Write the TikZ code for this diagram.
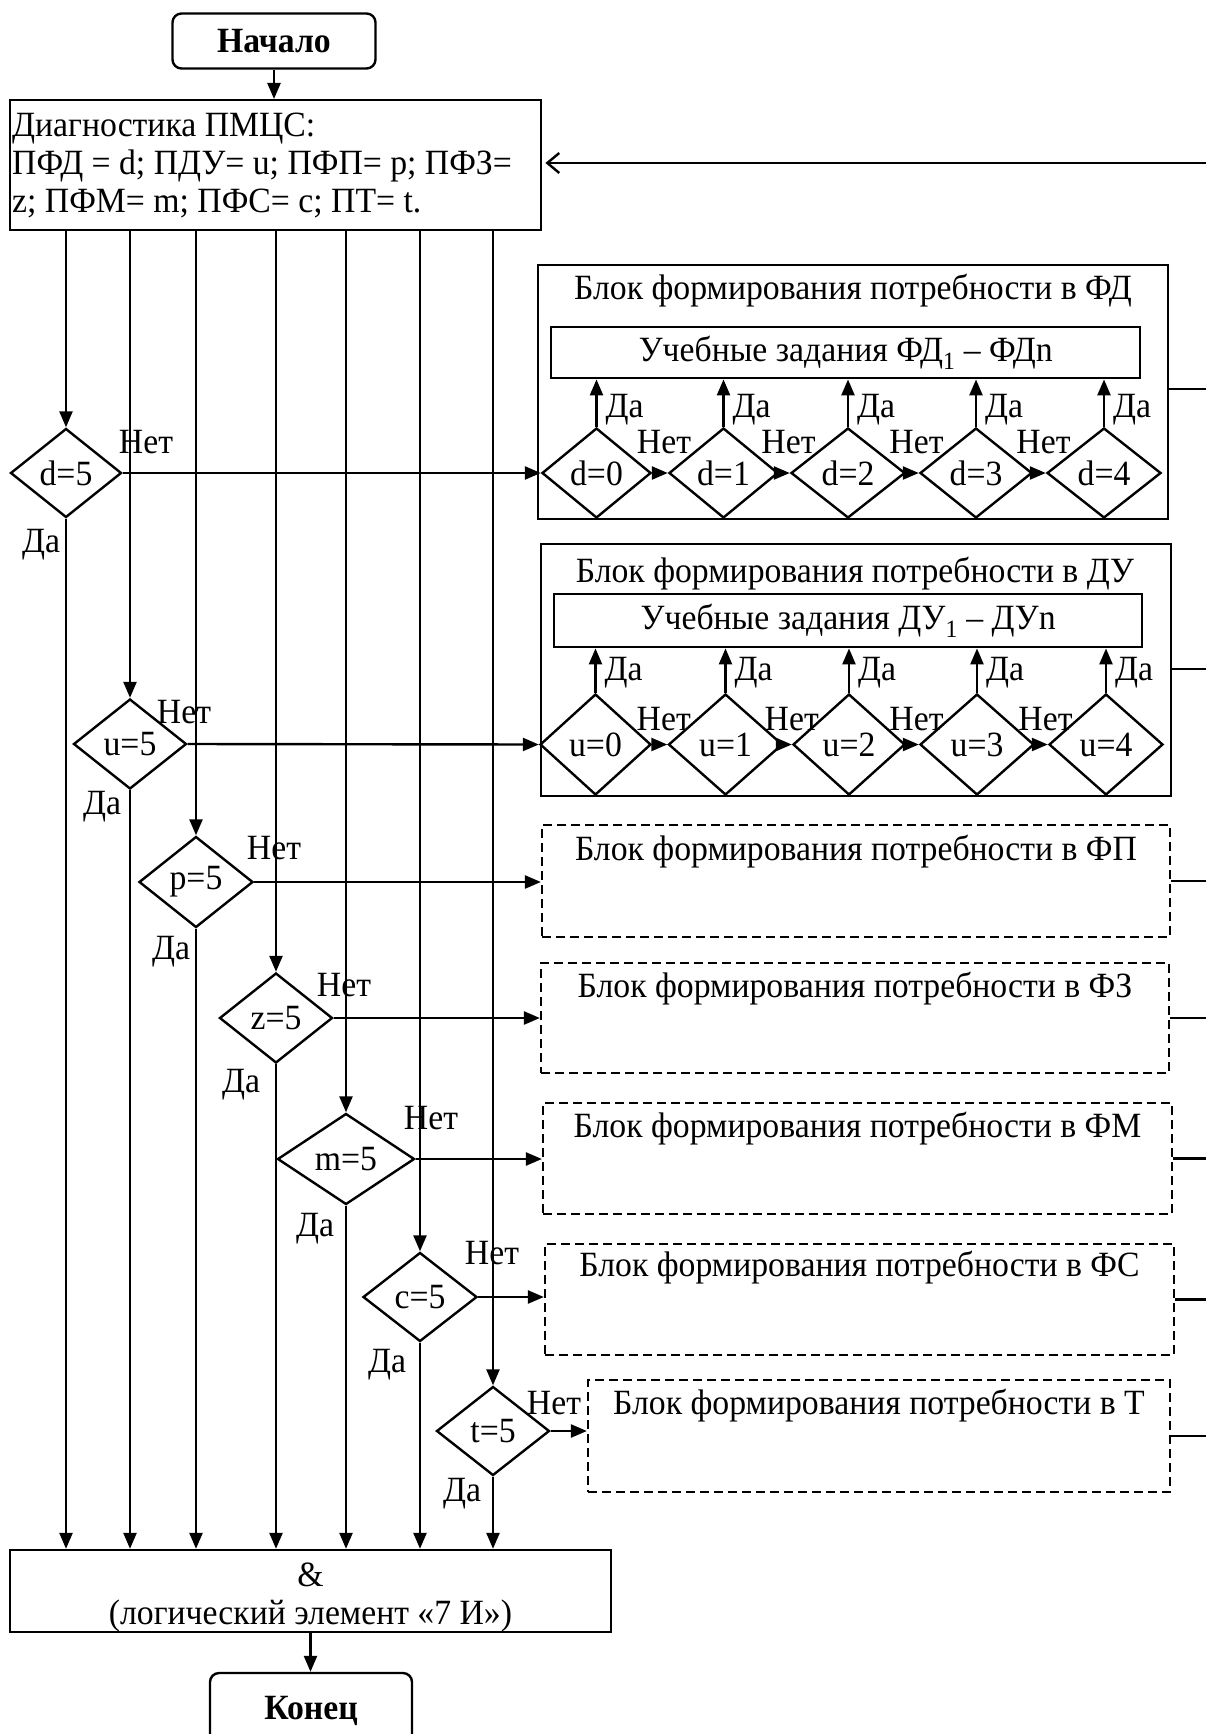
\documentclass[tikz,border=0pt]{standalone}
\usepackage{fontspec}
\setmainfont{Liberation Serif}[FakeStretch=0.95]
\usetikzlibrary{shapes.geometric,arrows.meta,calc}
\begin{document}
\begin{tikzpicture}[x=1pt,y=-1pt,
  every node/.style={font=\fontsize{35.5}{38}\selectfont, inner sep=0pt},
  ln/.style={line width=2.4pt},
  arr/.style={ln,-{Triangle[length=16pt,width=13pt]}},
  dia/.style={diamond, draw, line width=2.4pt, inner sep=0pt},
  boxs/.style={rectangle, draw, line width=2.4pt},
  dbox/.style={rectangle, draw, line width=2.2pt, dash pattern=on 9pt off 5pt},
  term/.style={rectangle, draw, line width=2.4pt, rounded corners=9pt}
]
\path[fill=white] (0,0) rectangle (1206,1734);
\useasboundingbox (0,0) rectangle (1206,1734);

% start and diagnostics
\node[term, minimum width=203pt, minimum height=55pt] (start) at (274,41) {\textbf{Начало}};
\node[boxs, minimum width=531pt, minimum height=130pt, anchor=north west] (diag) at (9,99) {};
\node[anchor=west, align=left] (diagtxt) at ([xshift=3pt]diag.west) {Диагностика ПМЦС:\\ПФД = d; ПДУ= u; ПФП= p; ПФЗ=\\z; ПФМ= m; ПФС= c; ПТ= t.};
\draw[arr] (start.south) -- (start.south |- diag.north);

% main decisions
\node[dia, minimum width=111pt, minimum height=89pt] (d5) at (66,473) {d=5};
\node[dia, minimum width=113pt, minimum height=90pt] (u5) at (130,744) {u=5};
\node[dia, minimum width=114pt, minimum height=91pt] (p5) at (196,882) {p=5};
\node[dia, minimum width=113pt, minimum height=90pt] (z5) at (276,1018) {z=5};
\node[dia, minimum width=137pt, minimum height=91pt] (m5) at (346,1159) {m=5};
\node[dia, minimum width=114pt, minimum height=89pt] (c5) at (420,1297) {c=5};
\node[dia, minimum width=113pt, minimum height=89pt] (t5) at (493,1431) {t=5};

% AND and end
\node[boxs, minimum width=601pt, minimum height=82pt] (and) at (310.5,1591) {};
\node[align=center] (andtxt) at ([yshift=-6pt]and.center) {\&\\(логический элемент «7 И»)};
\node[term, minimum width=202pt, minimum height=76pt] (end) at (311,1711) {\textbf{Конец}};
\draw[arr] (and.south) -- (and.south |- end.north);

\foreach \n in {d5,u5,p5,z5,m5,c5,t5}{
  \draw[arr] (\n.north |- diag.south) -- (\n.north);
  \draw[arr] (\n.south) -- (\n.south |- and.north);
}

% labels of main decisions
\node (l1n) at (146,442) {Нет};  \node (l1d) at (41,545) {Да};
\node (l2n) at (184,712) {Нет};  \node (l2d) at (102,807) {Да};
\node (l3n) at (274,848) {Нет};  \node (l3d) at (171,952) {Да};
\node (l4n) at (344,985) {Нет};  \node (l4d) at (241,1085) {Да};
\node (l5n) at (431,1118) {Нет}; \node (l5d) at (315,1229) {Да};
\node (l6n) at (492,1253) {Нет}; \node (l6d) at (387,1365) {Да};
\node (l7n) at (554,1403) {Нет}; \node (l7d) at (462,1494) {Да};

% FD block
\node[boxs, minimum width=630pt, minimum height=254pt, anchor=north west] (fd) at (537,264) {};
\node (fdT) at (853,291) {Блок формирования потребности в ФД};
\node[boxs, minimum width=589pt, minimum height=51pt, anchor=north west] (fdI) at (550,326) {};
\node (fdIt) at (fdI.center) {Учебные задания ФД\textsubscript{1} – ФДn};
\node[dia, minimum width=109pt, minimum height=90pt] (fd0) at (596.5,473) {d=0};
\node[dia, minimum width=109pt, minimum height=90pt] (fd1) at (723.5,473) {d=1};
\node[dia, minimum width=114pt, minimum height=90pt] (fd2) at (848,473) {d=2};
\node[dia, minimum width=112pt, minimum height=90pt] (fd3) at (976,473) {d=3};
\node[dia, minimum width=114pt, minimum height=90pt] (fd4) at (1104,473) {d=4};
\draw[arr] (d5.east) -- (fd0.west);
\foreach \a/\b in {fd0/fd1,fd1/fd2,fd2/fd3,fd3/fd4}{
  \draw[arr] (\a.east) -- (\b.west);
  \node at ($(\a.east)!0.5!(\b.west)+(4,-31)$) {Нет};
}
\foreach \a in {fd0,fd1,fd2,fd3,fd4}{
  \draw[arr] (\a.north) -- (\a.north |- fdI.south);
  \node at ($(\a.north)+(28,-17)$) {Да};
}

% DU block
\node[boxs, minimum width=630pt, minimum height=252pt, anchor=north west] (du) at (540,543) {};
\node (duT) at (855,574) {Блок формирования потребности в ДУ};
\node[boxs, minimum width=588pt, minimum height=53pt, anchor=north west] (duI) at (553,593) {};
\node (duIt) at (duI.center) {Учебные задания ДУ\textsubscript{1} – ДУn};
\node[dia, minimum width=111pt, minimum height=101pt] (du0) at (595.5,744.5) {u=0};
\node[dia, minimum width=114pt, minimum height=101pt] (du1) at (725.5,744.5) {u=1};
\node[dia, minimum width=112pt, minimum height=101pt] (du2) at (849,744.5) {u=2};
\node[dia, minimum width=114pt, minimum height=101pt] (du3) at (977,744.5) {u=3};
\node[dia, minimum width=114pt, minimum height=101pt] (du4) at (1106,744.5) {u=4};
\draw[arr] (u5.east) -- (du0.west);
\foreach \a/\b in {du0/du1,du1/du2,du2/du3,du3/du4}{
  \draw[arr] (\a.east) -- (\b.west);
  \node at ($(\a.east)!0.5!(\b.west)+(4,-25)$) {Нет};
}
\foreach \a in {du0,du1,du2,du3,du4}{
  \draw[arr] (\a.north) -- (\a.north |- duI.south);
  \node at ($(\a.north)+(28,-20)$) {Да};
}

% dashed blocks
\node[dbox, minimum width=628pt, minimum height=112pt] (fp) at (856,881) {};
\node[dbox, minimum width=628pt, minimum height=110pt] (fz) at (855,1018) {};
\node[dbox, minimum width=629pt, minimum height=111pt] (fm) at (857.5,1158.5) {};
\node[dbox, minimum width=629pt, minimum height=111pt] (fs) at (859.5,1299.5) {};
\node[dbox, minimum width=582pt, minimum height=112pt] (ft) at (879,1436) {};
\node (fpT) at ([yshift=-28pt]fp.north) {Блок формирования потребности в ФП};
\node (fzT) at ([yshift=-27pt]fz.north) {Блок формирования потребности в ФЗ};
\node (fmT) at ([yshift=-27pt]fm.north) {Блок формирования потребности в ФМ};
\node (fsT) at ([yshift=-25pt]fs.north) {Блок формирования потребности в ФС};
\node (ftT) at ([yshift=-27pt]ft.north) {Блок формирования потребности в Т};
\draw[arr] (p5.east) -- (p5.east -| fp.west);
\draw[arr] (z5.east) -- (z5.east -| fz.west);
\draw[arr] (m5.east) -- (m5.east -| fm.west);
\draw[arr] (c5.east) -- (c5.east -| fs.west);
\draw[arr] (t5.east) -- (t5.east -| ft.west);

% outgoing lines to the right edge
\coordinate (rFD) at (1206,389);
\coordinate (rDU) at (1206,669);
\coordinate (redge) at (1206,0);
\draw[ln] (fd.east |- rFD) -- (rFD);
\draw[ln] (du.east |- rDU) -- (rDU);
\foreach \b in {fp,fz,fm,fs,ft}{
  \draw[ln] (\b.east) -- (\b.east -| redge);
}

% feedback arrow
\coordinate (fbR) at (1206,163);
\draw[ln,-{Straight Barb[length=12pt,width=20pt]}, shorten >=3pt] (fbR) -- (fbR -| diag.east);
\end{tikzpicture}
\end{document}
